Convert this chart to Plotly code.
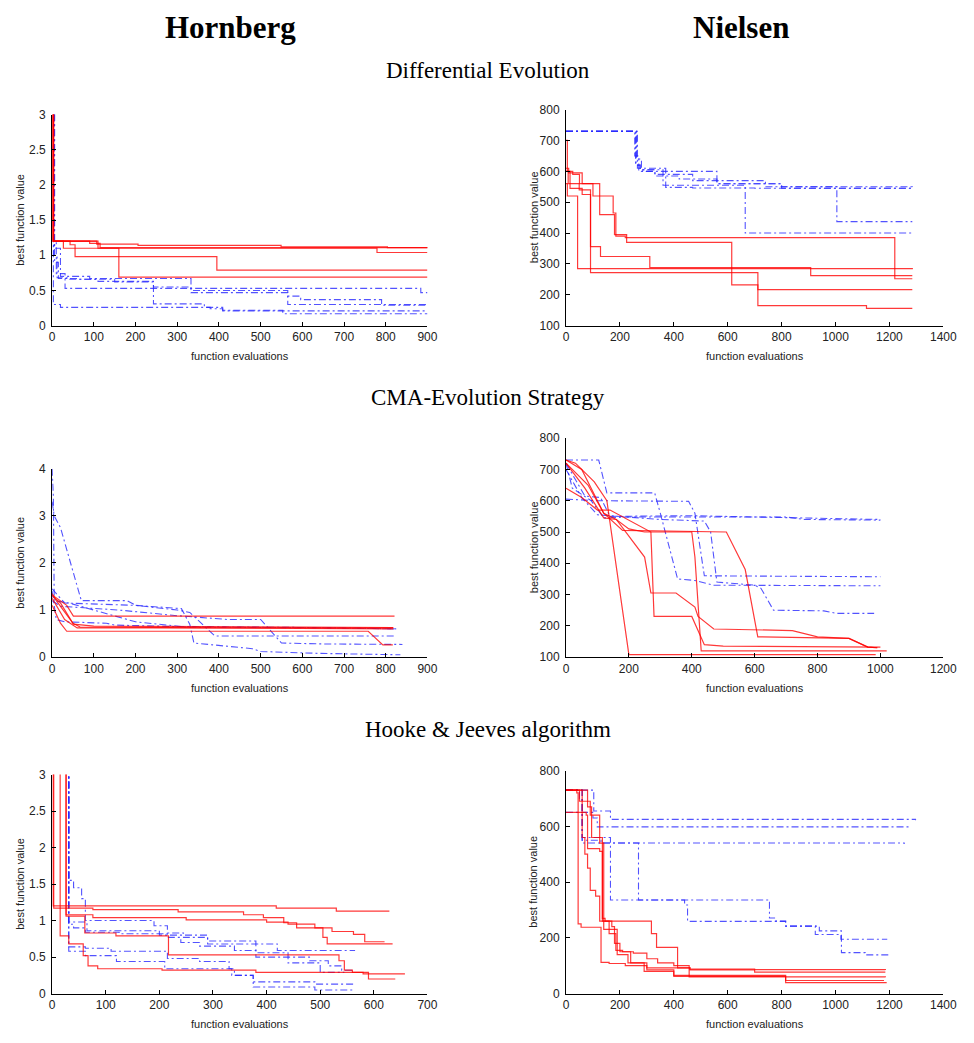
import plotly.graph_objects as go

W, H = 974, 1043

# ---- Differential Evolution, Hornberg (best-so-far step curves) ----
de_horn_red = [
    ([0, 3, 107, 206, 549, 804, 900], [3.4, 1.2, 1.16, 1.14, 1.12, 1.11, 1.10]),
    ([0, 2, 27, 779, 900], [3.4, 1.2, 1.10, 1.04, 1.04]),
    ([0, 3, 43, 55, 395, 900], [3.4, 1.2, 1.15, 0.98, 0.79, 0.79]),
    ([0, 2, 110, 160, 900], [3.4, 1.2, 1.10, 0.69, 0.69]),
    ([0, 4, 90, 115, 900], [3.4, 1.2, 1.17, 1.11, 1.11]),
]
de_horn_blue = [
    ([0, 5, 10, 31, 884, 900], [3.4, 1.2, 0.74, 0.53, 0.47, 0.47]),
    ([0, 4, 12, 36, 110, 243, 365, 409, 553, 900], [3.4, 1.0, 0.68, 0.66, 0.63, 0.31, 0.26, 0.21, 0.17, 0.17]),
    ([0, 6, 15, 60, 150, 243, 333, 565, 596, 790, 900], [3.4, 0.9, 0.67, 0.66, 0.62, 0.55, 0.47, 0.42, 0.37, 0.29, 0.28]),
    ([0, 5, 20, 90, 333, 565, 900], [3.4, 1.1, 0.70, 0.67, 0.50, 0.30, 0.30]),
    ([0, 3, 20, 379, 409, 553, 790, 900], [3.4, 0.30, 0.26, 0.24, 0.22, 0.21, 0.21, 0.21]),
]

# ---- Differential Evolution, Nielsen ----
de_niel_red = [
    ([0, 5, 25, 50, 100, 175, 185, 220, 1220, 1285], [700, 600, 590, 560, 520, 465, 390, 385, 252, 252]),
    ([0, 10, 60, 125, 180, 225, 615, 712, 1285], [610, 595, 560, 460, 395, 370, 232, 217, 217]),
    ([0, 8, 49, 91, 128, 311, 908, 1285], [600, 560, 540, 356, 324, 288, 262, 262]),
    ([0, 5, 43, 1285], [560, 520, 285, 283]),
    ([0, 15, 60, 91, 712, 1115, 1285], [600, 545, 525, 272, 165, 156, 156]),
]
de_niel_blue = [
    ([0, 258, 275, 330, 420, 560, 800, 1285], [730, 620, 605, 585, 575, 560, 545, 542]),
    ([0, 262, 280, 370, 470, 700, 1285], [730, 640, 610, 548, 546, 545, 540]),
    ([0, 255, 270, 330, 470, 740, 1005, 1285], [730, 650, 600, 590, 570, 550, 437, 437]),
    ([0, 260, 275, 360, 665, 1285], [730, 620, 605, 555, 400, 400]),
    ([0, 265, 285, 560, 800, 1285], [730, 610, 600, 560, 550, 540]),
]

# ---- CMA-Evolution Strategy, Hornberg (piecewise linear) ----
cma_horn_red = [
    ([0, 35, 51, 821], [1.32, 1.10, 0.87, 0.87]),
    ([0, 20, 51, 100, 818], [1.30, 1.15, 0.70, 0.66, 0.63]),
    ([0, 20, 35, 758, 793, 817], [1.10, 0.72, 0.55, 0.55, 0.26, 0.26]),
    ([0, 30, 60, 818], [1.25, 0.80, 0.62, 0.62]),
    ([0, 10, 50, 67, 818], [1.35, 1.20, 0.72, 0.64, 0.60]),
]
cma_horn_blue = [
    ([0, 5, 20, 70, 180, 200, 300, 330, 390, 820], [3.3, 3.0, 2.75, 1.20, 1.20, 1.10, 1.00, 0.95, 0.45, 0.45]),
    ([0, 30, 200, 310, 330, 340, 480, 500, 640, 800, 835], [1.45, 1.15, 1.10, 1.03, 0.70, 0.30, 0.18, 0.12, 0.08, 0.05, 0.05]),
    ([0, 20, 160, 220, 300, 420, 500, 530, 550, 650, 840], [1.20, 1.08, 1.00, 0.95, 0.88, 0.80, 0.80, 0.50, 0.30, 0.28, 0.27]),
    ([0, 10, 30, 130, 150, 300, 600, 820], [1.40, 0.80, 0.75, 0.72, 0.68, 0.65, 0.63, 0.60]),
    ([0, 3, 5, 40, 200, 320, 700, 830], [4.0, 3.4, 1.20, 1.15, 0.75, 0.64, 0.62, 0.60]),
]

# ---- CMA-Evolution Strategy, Nielsen ----
cma_niel_red = [
    ([0, 30, 90, 130, 200, 985], [730, 720, 660, 600, 108, 108]),
    ([0, 50, 100, 120, 160, 250, 270, 350, 410, 420, 470, 720, 800, 900, 960, 990],
     [730, 700, 600, 560, 540, 420, 305, 305, 260, 230, 190, 185, 165, 160, 132, 130]),
    ([0, 50, 100, 140, 270, 280, 400, 440, 500, 1000], [640, 610, 570, 570, 500, 230, 230, 140, 135, 132]),
    ([0, 60, 120, 160, 200, 250, 400, 410, 430, 1020], [720, 640, 545, 540, 510, 500, 500, 420, 120, 120]),
    ([0, 70, 120, 180, 510, 570, 610, 900, 960, 990], [720, 650, 560, 505, 500, 380, 165, 160, 132, 130]),
]
cma_niel_blue = [
    ([0, 104, 130, 282, 300, 355, 410, 470, 1000], [730, 730, 625, 625, 560, 350, 345, 330, 328]),
    ([0, 100, 390, 410, 440, 1000], [605, 600, 598, 560, 360, 357]),
    ([0, 50, 100, 300, 440, 460, 480, 600, 620, 660, 820, 860, 980],
     [700, 610, 555, 540, 535, 500, 340, 330, 320, 250, 248, 240, 240]),
    ([0, 20, 80, 120, 200, 380, 700, 760, 1000], [720, 640, 600, 545, 548, 548, 548, 540, 538]),
    ([0, 60, 110, 140, 400, 1000], [720, 615, 610, 550, 552, 540]),
]

# ---- Hooke & Jeeves algorithm, Hornberg (step curves) ----
hj_horn_red = [
    ([0, 2, 418, 530, 629], [3.5, 1.20, 1.17, 1.13, 1.13]),
    ([0, 3, 76, 235, 357, 394, 432, 456, 522, 562, 583, 620], [3.5, 1.17, 1.15, 1.12, 1.08, 1.04, 0.97, 0.90, 0.85, 0.81, 0.71, 0.71]),
    ([0, 26, 76, 250, 400, 440, 490, 505, 513, 635], [3.5, 1.08, 1.04, 1.01, 0.98, 0.95, 0.90, 0.77, 0.68, 0.68]),
    ([0, 15, 31, 58, 67, 85, 205, 380, 580, 658], [3.5, 0.79, 0.68, 0.52, 0.38, 0.34, 0.32, 0.29, 0.27, 0.27]),
    ([0, 26, 61, 119, 217, 535, 545, 560, 590, 640], [3.5, 1.06, 0.83, 0.79, 0.53, 0.45, 0.32, 0.29, 0.20, 0.20]),
]
hj_horn_blue = [
    ([0, 31, 40, 55, 62, 190, 215, 245, 290, 420, 565], [3.5, 1.55, 1.45, 1.30, 1.00, 0.93, 0.83, 0.77, 0.68, 0.59, 0.59]),
    ([0, 31, 40, 62, 125, 215, 240, 275, 340, 380, 480, 515, 540, 560], [3.5, 0.95, 0.90, 0.84, 0.82, 0.77, 0.70, 0.65, 0.59, 0.50, 0.45, 0.38, 0.32, 0.32]),
    ([0, 31, 62, 110, 215, 275, 330, 335, 375, 490, 565], [3.5, 0.64, 0.62, 0.58, 0.48, 0.44, 0.34, 0.25, 0.16, 0.13, 0.13]),
    ([0, 31, 62, 120, 210, 340, 375, 490, 565], [3.5, 0.58, 0.52, 0.44, 0.34, 0.25, 0.09, 0.05, 0.05]),
    ([0, 31, 65, 200, 290, 380, 440, 500, 545], [3.5, 0.98, 0.86, 0.80, 0.72, 0.56, 0.42, 0.29, 0.29]),
]

# ---- Hooke & Jeeves algorithm, Nielsen ----
hj_niel_red = [
    ([0, 40, 45, 56, 130, 160, 220, 300, 460, 700, 1185], [730, 720, 250, 238, 112, 108, 100, 92, 88, 86, 85]),
    ([0, 80, 95, 135, 145, 317, 336, 414, 460, 700, 1185], [730, 670, 560, 270, 260, 215, 166, 92, 85, 77, 77]),
    ([0, 75, 80, 125, 135, 160, 185, 210, 250, 300, 340, 400, 457, 1185],
     [650, 640, 520, 510, 260, 215, 155, 150, 145, 125, 110, 100, 60, 59]),
    ([0, 60, 70, 80, 90, 110, 125, 170, 180, 200, 240, 300, 400, 815, 1190],
     [730, 560, 500, 450, 370, 350, 260, 240, 180, 150, 110, 85, 65, 39, 39]),
    ([0, 50, 90, 125, 140, 190, 230, 290, 400, 815, 1180], [730, 690, 640, 540, 230, 140, 110, 80, 62, 47, 47]),
]
hj_niel_blue = [
    ([0, 49, 103, 165, 1297], [730, 730, 655, 625, 622]),
    ([0, 50, 100, 116, 1272], [650, 650, 630, 598, 597]),
    ([0, 50, 60, 130, 1255], [730, 700, 550, 540, 537]),
    ([0, 60, 165, 440, 451, 815, 940, 1022, 1110, 1204], [730, 560, 336, 318, 259, 242, 225, 147, 139, 139]),
    ([0, 60, 269, 755, 779, 815, 925, 1020, 1192], [730, 540, 336, 271, 260, 242, 212, 195, 195]),
]

section_titles = ["Differential Evolution", "CMA-Evolution Strategy", "Hooke & Jeeves algorithm"]
column_titles = ["Hornberg", "Nielsen"]
x_label = "function evaluations"
y_label = "best function value"

# panel definitions: data, line shape, axis ranges, tick steps, pixel box (left, right, top, bottom)
panels = [
    (de_horn_red, de_horn_blue, "hv", [0, 900], 100, [0, 3], 0.5, (50, 432, 109, 323)),
    (de_niel_red, de_niel_blue, "hv", [0, 1400], 200, [100, 800], 100, (573, 957, 104, 323)),
    (cma_horn_red, cma_horn_blue, "linear", [0, 900], 100, [0, 4], 1, (50, 432, 468, 659)),
    (cma_niel_red, cma_niel_blue, "linear", [0, 1200], 200, [100, 800], 100, (573, 957, 437, 659)),
    (hj_horn_red, hj_horn_blue, "hv", [0, 700], 100, [0, 3], 0.5, (50, 432, 778, 1000)),
    (hj_niel_red, hj_niel_blue, "hv", [0, 1400], 200, [0, 800], 200, (573, 957, 774, 1000)),
]

RED = "rgba(255,0,0,0.78)"
BLUE = "rgba(40,40,255,0.8)"
SANS = "Liberation Sans, Arial, sans-serif"
SERIF = "Liberation Serif, Times New Roman, serif"

fig = go.Figure()
annotations = []


def note(text, px, py, size, family, angle=0, color="#222"):
    annotations.append(dict(text=text, x=px / W, y=1 - py / H, xref="paper", yref="paper",
                            xanchor="center", yanchor="middle", showarrow=False, textangle=angle,
                            font=dict(family=family, size=size, color=color)))


for i, (reds, blues, shape, xr, dx, yr, dy, box) in enumerate(panels):
    n = i + 1
    xa = "x" if n == 1 else f"x{n}"
    ya = "y" if n == 1 else f"y{n}"
    for xs, ys in blues:
        fig.add_trace(go.Scatter(x=xs, y=ys, mode="lines", xaxis=xa, yaxis=ya,
                                 line=dict(color=BLUE, width=1.1, dash="7px,3px,2px,3px", shape=shape),
                                 showlegend=False, hoverinfo="skip"))
    for xs, ys in reds:
        fig.add_trace(go.Scatter(x=xs, y=ys, mode="lines", xaxis=xa, yaxis=ya,
                                 line=dict(color=RED, width=1.2, shape=shape),
                                 showlegend=False, hoverinfo="skip"))
    left, right, top, bottom = box
    axis_common = dict(showgrid=False, zeroline=False, showline=True, linecolor="black", linewidth=1,
                       ticks="inside", ticklen=4, tickcolor="black", tickwidth=1,
                       tickfont=dict(family=SANS, size=12, color="#222"))
    fig.update_layout(**{
        ("xaxis" if n == 1 else f"xaxis{n}"): dict(
            domain=[left / W, right / W], range=xr, dtick=dx, tick0=0,
            anchor=ya, **axis_common),
        ("yaxis" if n == 1 else f"yaxis{n}"): dict(
            domain=[1 - bottom / H, 1 - top / H], range=yr, dtick=dy, tick0=0,
            anchor=xa, ticklabelstandoff=3, **axis_common),
    })
    note(x_label, (left + right) / 2, bottom + 31, 11, SANS)
    note(y_label, left - 33, (top + bottom) / 2, 11, SANS, angle=-90)

for txt, xc in zip(column_titles, [232, 751]):
    note(f"<b>{txt}</b>", xc, 21, 31, SERIF, color="black")

for txt, yc in zip(section_titles, [64, 396, 732]):
    note(txt, 494, yc, 23, SERIF, color="black")

fig.update_layout(width=W, height=H, margin=dict(l=0, r=0, t=0, b=0),
                  paper_bgcolor="white", plot_bgcolor="white", annotations=annotations)

fig.write_html("out.html")
